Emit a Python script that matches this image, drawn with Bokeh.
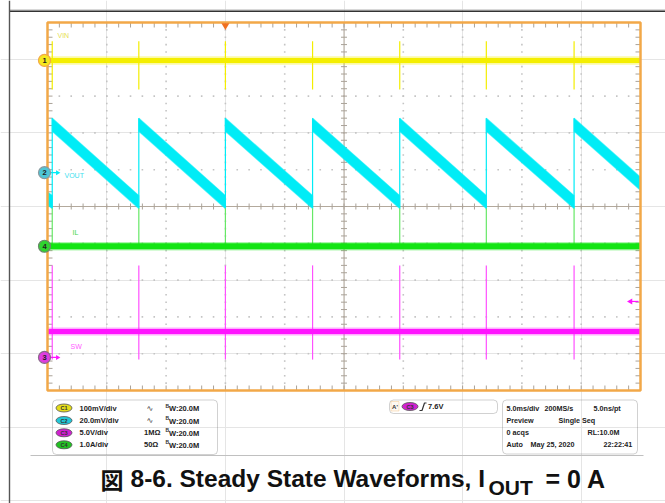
import numpy as np
from bokeh.plotting import figure
from bokeh.models import Range1d, Label, BoxAnnotation
from bokeh.embed import file_html
from bokeh.resources import INLINE

# ---------------- values ----------------
channel_ids = ["C1", "C2", "C3", "C4"]
channel_names = ["VIN", "VOUT", "SW", "IL"]
channel_units_per_div = [0.1, 0.02, 5.0, 1.0]
channel_scale_text = ["100mV/div", "20.0mV/div", "5.0V/div", "1.0A/div"]
channel_coupling_text = ["∿", "∿", "1MΩ", "50Ω"]
channel_bw_text = ["20.0M", "20.0M", "20.0M", "20.0M"]
channel_offset_div = [3.97, 0.92, -4.10, -1.08]

time_per_div_ms = 5.0
record_start_ms = -15.0
record_end_ms = 35.0

switch_times_ms = [-14.6, -7.3, 0.0, 7.35, 14.7, 22.0, 29.4]

vin_level_V = 0.0
vin_spike_top_V = [0.052, 0.052, 0.052, 0.052, 0.052, 0.052, 0.052]
vin_spike_bottom_V = [-0.079, -0.079, -0.079, -0.079, -0.079, -0.079, -0.079]

vout_t_ms = [-15.0, -14.6, -14.6, -7.3, -7.3, 0.0, 0.0, 7.35, 7.35,
             14.7, 14.7, 22.0, 22.0, 29.4, 29.4, 35.0]
vout_V = [-0.014, -0.016, 0.026, -0.016, 0.026, -0.016, 0.026, -0.016, 0.026,
          -0.016, 0.026, -0.016, 0.026, -0.016, 0.026, -0.006]

il_level_A = 0.0
il_spike_top_A = [1.03, 1.03, 1.03, 1.03, 1.03, 1.03, 1.03]

sw_level_V = 3.5
sw_spike_top_V = [12.5, 12.5, 12.5, 12.5, 12.5, 12.5, 12.5]
sw_spike_bottom_V = [-0.3, -0.3, -0.3, -0.3, -0.3, -0.3, -0.3]

trigger_time_ms = 0.0
trigger_level_V = 7.6
trigger_text = "7.6V"

acq_rows = [["5.0ms/div", "200MS/s", "5.0ns/pt"],
            ["Preview", "Single Seq"],
            ["0 acqs", "RL:10.0M"],
            ["Auto", "May 25, 2020", "22:22:41"]]

caption_main = "8-6. Steady State Waveforms, I"
caption_sub = "OUT"
caption_tail = "= 0 A"

# ---------------- layout / style ----------------
W, H = 665, 503
OX, OY = 0, 0
GX0, GX1, GY0, GY1 = 47, 640, 22, 390
NDX, NDY = 10, 10
ms_per_px = NDX * time_per_div_ms / (GX1 - GX0)
div_per_px = NDY / (GY1 - GY0)
x_start = record_start_ms - (GX0 - OX) * ms_per_px
y_end = NDY / 2 + (GY0 - OY) * div_per_px

ORANGE = "#f2a848"
YELLOW = "#f4ee00"
CYAN = "#00ecf6"
GREEN = "#12e412"
MAGENTA = "#ff14ff"
DOT = "#c4c4c4"
CROSS = "#b3a99c"
TICK = "#aaa298"
FONT = "Liberation Sans"


def X(px):
    return x_start + (px - OX) * ms_per_px


def Y(py):
    return y_end - (py - OY) * div_per_px


def to_div(v, ch):
    return channel_offset_div[ch] + v / channel_units_per_div[ch]


p = figure(width=W, height=H, title=None,
           x_range=Range1d(x_start, x_start + W * ms_per_px),
           y_range=Range1d(y_end - H * div_per_px, y_end),
           output_backend="svg", toolbar_location=None, min_border=0,
           x_axis_location=None, y_axis_location=None,
           outline_line_color=None, background_fill_color="white")


def label(px, py, s, size=7.5, color="#222222", bold=True, align="left",
          baseline="middle", font=FONT):
    p.add_layout(Label(x=X(px), y=Y(py), text=s, text_font=font,
                       text_font_size=f"{size}px", text_color=color,
                       text_font_style="bold" if bold else "normal",
                       text_align=align, text_baseline=baseline))


# page frame lines
p.segment(x0=[X(9), X(9)], y0=[Y(9.3), Y(10.8)], x1=[X(700), X(700)],
          y1=[Y(9.3), Y(10.8)], line_color=["#c8c8c8", "#333333"],
          line_width=[1, 1.4])
p.segment(x0=[X(9)], y0=[Y(0)], x1=[X(9)], y1=[Y(510)],
          line_color="#555555", line_width=1.4)
p.segment(x0=[X(30)], y0=[Y(455)], x1=[X(643)], y1=[Y(455)],
          line_color="#c0c0c0", line_width=1)

# graticule
t_div = record_start_ms + time_per_div_ms * np.arange(NDX + 1)
y_div = np.arange(NDY + 1) - NDY / 2
t_minor = record_start_ms + time_per_div_ms * np.arange(NDX * 5 + 1) / 5
y_minor = np.arange(NDY * 5 + 1) / 5 - NDY / 2
tc = t_div[NDX // 2]
dx, dy = [], []
for yy in y_div[1:-1]:
    if yy == 0:
        continue
    for tt in t_minor[1:-1]:
        dx.append(tt); dy.append(yy)
for tt in t_div[1:-1]:
    if tt == tc:
        continue
    for yy in y_minor[1:-1]:
        dx.append(tt); dy.append(yy)
p.scatter(dx, dy, marker="square", size=1.6, fill_color=DOT, line_color=None)

# crosshair
p.segment(x0=[tc, t_div[0]], y0=[y_div[0], 0], x1=[tc, t_div[-1]],
          y1=[y_div[-1], 0], line_color=CROSS, line_width=1)
tx0, ty0, tx1, ty1 = [], [], [], []
for tt in t_minor[1:-1]:
    tx0 += [tt, tt, tt]; tx1 += [tt, tt, tt]
    ty0 += [-3 * div_per_px, y_div[-1], y_div[0]]
    ty1 += [3 * div_per_px, y_div[-1] - 5 * div_per_px, y_div[0] + 5 * div_per_px]
for yy in y_minor[1:-1]:
    ty0 += [yy, yy, yy]; ty1 += [yy, yy, yy]
    tx0 += [tc - 3 * ms_per_px, t_div[0], t_div[-1]]
    tx1 += [tc + 3 * ms_per_px, t_div[0] + 5 * ms_per_px, t_div[-1] - 5 * ms_per_px]
p.segment(x0=tx0, y0=ty0, x1=tx1, y1=ty1, line_color=TICK, line_width=1)

n = len(switch_times_ms)

# ---- CH1 VIN ----
vin_d = to_div(vin_level_V, 0)
p.segment(x0=switch_times_ms, x1=switch_times_ms,
          y0=[to_div(v, 0) for v in vin_spike_top_V],
          y1=[to_div(v, 0) for v in vin_spike_bottom_V],
          line_color=YELLOW, line_width=1.2)
p.line([record_start_ms, record_end_ms], [vin_d, vin_d], line_color=YELLOW,
       line_width=8.5, line_alpha=0.35)
p.line([record_start_ms, record_end_ms], [vin_d, vin_d], line_color=YELLOW,
       line_width=5)

# ---- CH2 VOUT ----
hb = 6.5 * div_per_px
vd = [to_div(v, 1) for v in vout_V]
rxs, rys, jx, jlo, jhi = [], [], [], [], []
for i in range(len(vout_t_ms) - 1):
    t0, t1 = vout_t_ms[i], vout_t_ms[i + 1]
    d0, d1 = vd[i], vd[i + 1]
    if t0 == t1:
        jx.append(t0); jlo.append(min(d0, d1) - hb); jhi.append(max(d0, d1) + hb)
    else:
        rxs.append([t0, t1, t1, t0])
        rys.append([d0 + hb, d1 + hb, d1 - hb, d0 - hb])
p.patches(rxs, rys, fill_color=CYAN, line_color=CYAN, line_width=1.2,
          line_alpha=0.6)
p.segment(x0=jx, x1=jx, y0=jlo, y1=jhi, line_color=CYAN, line_width=1.2)

# ---- CH4 IL ----
il_d = to_div(il_level_A, 3)
p.segment(x0=switch_times_ms, x1=switch_times_ms, y0=[il_d] * n,
          y1=[to_div(v, 3) for v in il_spike_top_A],
          line_color="#66e866", line_width=1.2)
p.line([record_start_ms, record_end_ms], [il_d, il_d], line_color=GREEN,
       line_width=8.5, line_alpha=0.35)
p.line([record_start_ms, record_end_ms], [il_d, il_d], line_color=GREEN,
       line_width=6)

# ---- CH3 SW ----
sw_d = to_div(sw_level_V, 2)
p.segment(x0=switch_times_ms, x1=switch_times_ms,
          y0=[to_div(v, 2) for v in sw_spike_top_V],
          y1=[to_div(v, 2) for v in sw_spike_bottom_V],
          line_color="#ff50ff", line_width=1.2)
p.line([record_start_ms, record_end_ms], [sw_d, sw_d], line_color=MAGENTA,
       line_width=8, line_alpha=0.35)
p.line([record_start_ms, record_end_ms], [sw_d, sw_d], line_color=MAGENTA,
       line_width=5)

# graticule border
p.quad(left=[record_start_ms], right=[record_end_ms], bottom=[y_div[0]],
       top=[y_div[-1]], fill_color=None, line_color=ORANGE, line_width=2.5)

# trigger markers
p.scatter([trigger_time_ms], [Y(25)], marker="inverted_triangle", size=8,
          fill_color="#f07020", line_color=None)
trig_d = to_div(trigger_level_V, 2)
p.segment(x0=[X(630)], x1=[X(638)], y0=[trig_d], y1=[trig_d],
          line_color=MAGENTA, line_width=1.2)
p.scatter([X(630)], [trig_d], marker="triangle", angle=np.pi / 2, size=6,
          fill_color=MAGENTA, line_color=None)

# channel labels in graticule
label(57, 35, channel_names[0], 7, "#e6e050", bold=False)
label(64, 175, channel_names[1], 7, "#3ee0ee", bold=False)
label(72, 232, channel_names[3], 7, "#3fd63f", bold=False)
label(70, 346, channel_names[2], 7, "#ff5cff", bold=False)

# channel ground markers
mk_fill = ["#f6e81e", "#4ec6d6", "#e03ce0", "#2fd42f"]
mk_line = [ORANGE, "#8a9aa0", "#8a6a8a", "#6a8a6a"]
p.segment(x0=[X(50), X(50)], x1=[X(56), X(56)],
          y0=[channel_offset_div[1], channel_offset_div[2]],
          y1=[channel_offset_div[1], channel_offset_div[2]],
          line_color=[CYAN, MAGENTA], line_width=1.2)
p.scatter([X(57), X(57)], [channel_offset_div[1], channel_offset_div[2]],
          marker="triangle", angle=-np.pi / 2, size=5,
          fill_color=[CYAN, MAGENTA], line_color=None)
p.scatter([X(44)] * 4, channel_offset_div, marker="circle", size=12,
          fill_color=mk_fill, line_color=mk_line, line_width=1.2)
for k, num in enumerate(["1", "2", "3", "4"]):
    p.add_layout(Label(x=X(44), y=channel_offset_div[k], text=num,
                       text_font=FONT, text_font_size="7.5px",
                       text_font_style="bold", text_color="#202020",
                       text_align="center", text_baseline="middle"))

# ---- info panels ----
for (l, r, t, b) in [(52, 217, 399.5, 454), (389, 497, 399.5, 413),
                     (502, 637, 399.5, 453.5)]:
    p.add_layout(BoxAnnotation(left=X(l), right=X(r), top=Y(t), bottom=Y(b),
                               border_radius=4, fill_color=None,
                               line_color="#666666", line_width=1))

row_y = [407.5, 420, 432.3, 444.3]
badge_fill = ["#e4dc1a", "#22c8d8", "#d021d0", "#22c222"]
p.ellipse(x=[X(63.5)] * 4, y=[Y(yy) for yy in row_y], width=16, height=8,
          width_units="screen", height_units="screen",
          fill_color=badge_fill, line_color="#555555", line_width=0.8)
for k in range(4):
    yy = row_y[k]
    label(63.5, yy, channel_ids[k], 5.5, "#333333", align="center")
    label(79, yy, channel_scale_text[k], 7.5)
    if channel_coupling_text[k] == "∿":
        label(146, yy, channel_coupling_text[k], 8, "#333333", bold=False,
              font="DejaVu Sans")
    else:
        label(143.5, yy, channel_coupling_text[k], 7.5)
    label(165, yy - 2.5, "B", 5, "#333333")
    label(168.5, yy + 0.5, "W:" + channel_bw_text[k], 7.5)

# trigger panel
p.add_layout(BoxAnnotation(left=X(390.5), right=X(398.5), top=Y(401),
                           bottom=Y(410.5), fill_color="#fbeede",
                           line_color=ORANGE, line_width=1))
label(394.5, 406, "A'", 6, "#333333", align="center")
p.ellipse(x=[X(409.5)], y=[Y(406)], width=16, height=8,
          width_units="screen", height_units="screen",
          fill_color=badge_fill[2], line_color="#555555", line_width=0.8)
label(409.5, 406, channel_ids[2], 5.5, "#333333", align="center")
p.line([X(419), X(421.5), X(424), X(426)], [Y(410), Y(410), Y(402.5), Y(402.5)],
       line_color="#333333", line_width=1.2)
label(427.5, 406, trigger_text, 7.5)

# acquisition panel
acq_x = [[506, 544, 593], [506, 558], [506, 587], [506, 530, 603]]
for r in range(4):
    for c, s in enumerate(acq_rows[r]):
        label(acq_x[r][c], row_y[r], s, 7.2)

# caption
label(100, 478, "図", 23, "#111111", font="Noto Sans CJK JP")
label(130, 478, caption_main, 24.5, "#111111")
label(488, 486.5, caption_sub, 21, "#111111")
label(545, 478, caption_tail, 25, "#111111")

open("out.html", "w").write(file_html(p, INLINE))
